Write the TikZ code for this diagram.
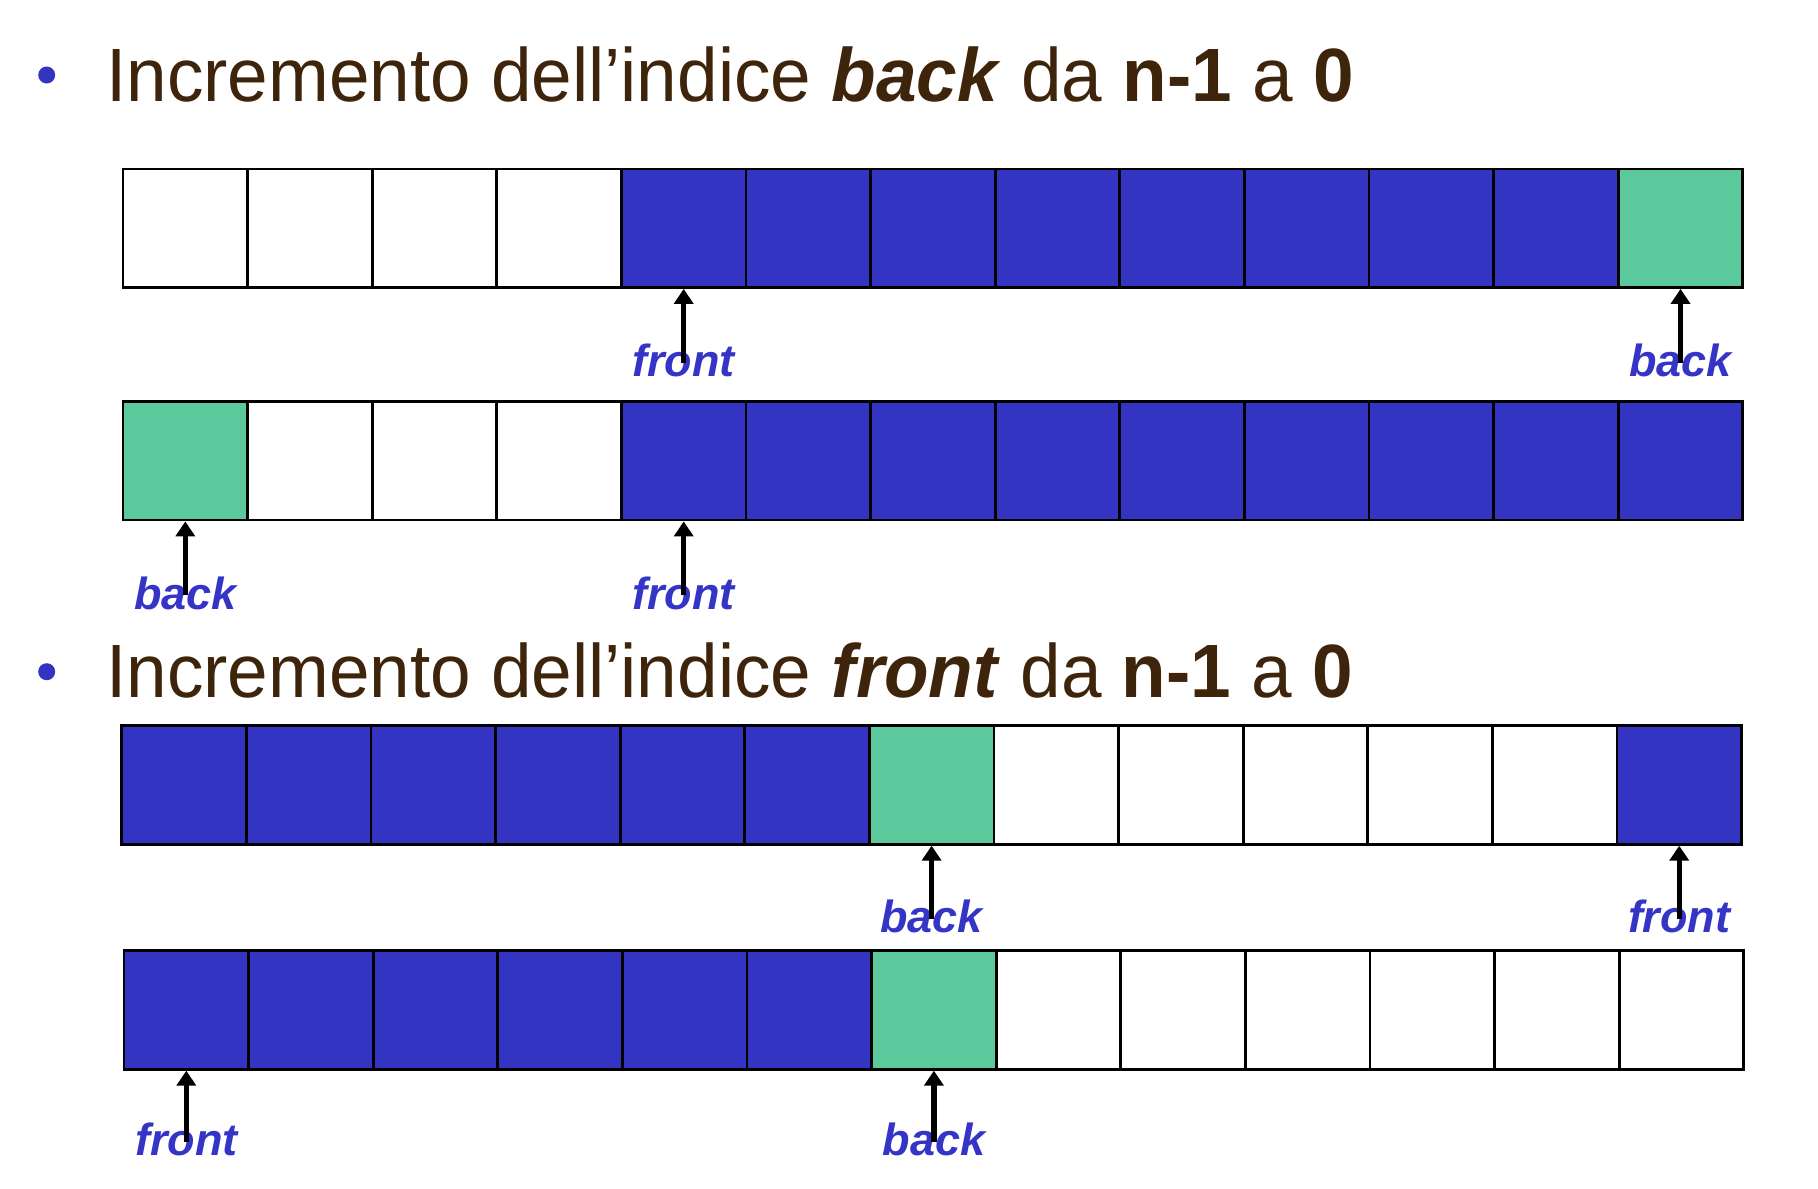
\documentclass[tikz,border=0pt]{standalone}
\usepackage{fontspec}
\setmainfont{Liberation Sans}
\newfontfamily\titlefont{Liberation Sans}[FakeStretch=0.965]
\usepackage{xcolor}
\usetikzlibrary{arrows.meta, positioning}

\definecolor{qblue}{HTML}{3434C2}
\definecolor{qgreen}{HTML}{5BC99B}
\definecolor{lblblue}{HTML}{3434C6}
\definecolor{titlebrown}{HTML}{3E240A}

\begin{document}
\begin{tikzpicture}[
    x=0.1mm, y=-0.1mm,
    cell/.style   ={draw, line width=0.8pt, inner sep=0pt,
                    minimum width=12.46mm, minimum height=11.85mm},
    ptr/.style    ={-{Triangle[length=1.5mm,width=1.9mm]}, line width=1.5pt},
    lbl/.style    ={anchor=base, inner sep=0pt, text=lblblue,
                    font=\fontsize{12.8pt}{15pt}\selectfont\bfseries\itshape},
    title/.style  ={anchor=base west, inner sep=0pt, text=titlebrown,
                    font=\titlefont\fontsize{21.5pt}{26pt}\selectfont},
    dot/.style    ={circle, fill=qblue, inner sep=0pt, minimum size=1.7mm}
]
\useasboundingbox (0,0) rectangle (1818,1188);

% First bullet: back goes from n-1 to 0
\node[dot]   (d1) at (46.7,75) {};
\node[title] (t1) at (105.5,101.7)
    {Incremento dell’indice \textbf{\textit{back}} da \textbf{n-1} a \textbf{0}};

% Row a: back on the last slot
\foreach \c [count=\i from 0] in {white,white,white,white,qblue,qblue,qblue,qblue,qblue,qblue,qblue,qblue,qgreen}
    \node[cell, fill=\c] (a\i) at (185.3+\i*124.6,228.25) {};

% Row b: back wrapped to slot 0
\foreach \c [count=\i from 0] in {qgreen,white,white,white,qblue,qblue,qblue,qblue,qblue,qblue,qblue,qblue,qblue}
    \node[cell, fill=\c] (b\i) at (185.3+\i*124.6,460.75) {};

% Second bullet: front goes from n-1 to 0
\node[dot]   (d2) at (46.7,671.7) {};
\node[title] (t2) at (105.5,697.3)
    {Incremento dell’indice \textbf{\textit{front}} da \textbf{n-1} a \textbf{0}};

% Row c: front on the last slot
\foreach \c [count=\i from 0] in {qblue,qblue,qblue,qblue,qblue,qblue,qgreen,white,white,white,white,white,qblue}
    \node[cell, fill=\c] (c\i) at (184+\i*124.6,785) {};

% Row d: front wrapped to slot 0
\foreach \c [count=\i from 0] in {qblue,qblue,qblue,qblue,qblue,qblue,qgreen,white,white,white,white,white,white}
    \node[cell, fill=\c] (d\i) at (186.3+\i*124.6,1010) {};

% --- Labels ---
\node[lbl, yshift=-8.8mm] (fa) at (a4.south)  {front};
\node[lbl, yshift=-8.8mm] (ba) at (a12.south) {back};
\node[lbl, yshift=-8.8mm] (bb) at (b0.south)  {back};
\node[lbl, yshift=-8.8mm] (fb) at (b4.south)  {front};
\node[lbl, yshift=-8.7mm] (bc) at (c6.south)  {back};
\node[lbl, yshift=-8.7mm] (fc) at (c12.south) {front};
\node[lbl, yshift=-8.5mm] (fd) at (d0.south)  {front};
\node[lbl, yshift=-8.5mm] (bd) at (d6.south)  {back};

% --- Arrows ---
\draw[ptr] ([yshift=1.4mm]fa.base) -- (a4.south);
\draw[ptr] ([yshift=1.4mm]ba.base) -- (a12.south);
\draw[ptr] ([yshift=1.4mm]bb.base) -- (b0.south);
\draw[ptr] ([yshift=1.4mm]fb.base) -- (b4.south);
\draw[ptr] ([yshift=1.4mm]bc.base) -- (c6.south);
\draw[ptr] ([yshift=1.4mm]fc.base) -- (c12.south);
\draw[ptr] ([yshift=1.4mm]fd.base) -- (d0.south);
\draw[ptr] ([yshift=1.4mm]bd.base) -- (d6.south);

\end{tikzpicture}
\end{document}
